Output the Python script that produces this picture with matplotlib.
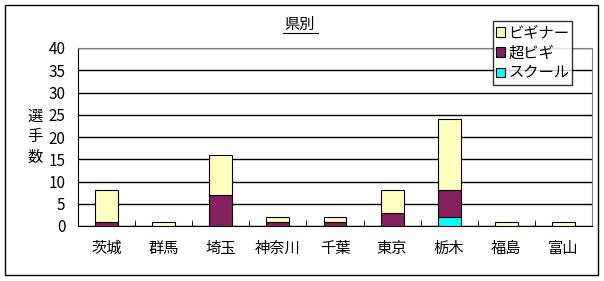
import matplotlib
matplotlib.use("Agg")
import matplotlib.pyplot as plt
from matplotlib.patches import Rectangle
import numpy as np

plt.rcParams['font.family'] = ['Noto Sans CJK JP', 'DejaVu Sans']

prefs = ['茨城', '群馬', '埼玉', '神奈川', '千葉', '東京', '栃木', '福島', '富山']
school = [0, 0, 0, 0, 0, 0, 2, 0, 0]
chobigi = [1, 0, 7, 1, 1, 3, 6, 0, 0]
beginner = [7, 1, 9, 1, 1, 5, 16, 1, 1]

W, H = 604, 281
fig = plt.figure(figsize=(W / 100, H / 100), dpi=100)
fig.patch.set_facecolor('white')

# outer chart frame
fig.patches.append(Rectangle((5 / W, 1 - 275 / H), 593 / W, 270 / H,
                             transform=fig.transFigure, fill=False,
                             edgecolor='black', lw=1))

ax = fig.add_axes([78 / W, 1 - 226 / H, (592 - 78) / W, (226 - 48) / H])

x = np.arange(len(prefs))
school = np.array(school)
chobigi = np.array(chobigi)
beginner = np.array(beginner)
bw = 0.4
ax.bar(x, school, bw, color='#00FFFF', edgecolor='black', lw=0.8,
       label='スクール', zorder=3)
ax.bar(x, chobigi, bw, bottom=school, color='#85205F', edgecolor='black',
       lw=0.8, label='超ビギ', zorder=3)
ax.bar(x, beginner, bw, bottom=school + chobigi, color='#FFFFC0',
       edgecolor='black', lw=0.8, label='ビギナー', zorder=3)

ax.set_xlim(-0.5, len(prefs) - 0.5)
ax.set_ylim(0, 40)
ax.set_yticks(range(0, 41, 5))
ax.set_xticks(x)
ax.set_xticklabels(prefs, fontsize=11)
ax.tick_params(axis='x', length=0, pad=10)
ax.set_xticks(np.arange(0.5, len(prefs) - 0.5, 1), minor=True)
ax.tick_params(axis='x', which='minor', direction='in', length=4, color='black')
ax.tick_params(axis='y', length=0, labelsize=11, pad=9)
ax.yaxis.grid(True, color='black', lw=1, zorder=0)
ax.set_axisbelow(True)

for s in ['top', 'right']:
    ax.spines[s].set_color('#808080')
for s in ['left', 'bottom']:
    ax.spines[s].set_color('black')

fig.text(35 / W, 1 - 137 / H, '選\n手\n数', fontsize=11,
         ha='center', va='center', linespacing=1.3)

fig.text(300 / W, 1 - 24 / H, '県別', fontsize=11, ha='center', va='center')
fig.lines.append(plt.Line2D([283 / W, 318 / W], [1 - 33 / H, 1 - 33 / H],
                            transform=fig.transFigure, color='black', lw=0.8))

handles, labels = ax.get_legend_handles_labels()
leg = fig.legend(handles[::-1], labels[::-1], loc='upper left',
                 bbox_to_anchor=(493 / W, 1 - 21 / H), fontsize=11,
                 frameon=True, fancybox=False, handlelength=0.6,
                 handleheight=0.6, handletextpad=0.2, borderpad=0.2,
                 labelspacing=0.22, borderaxespad=0)
leg.get_frame().set_edgecolor('black')
leg.get_frame().set_linewidth(1)

fig.savefig('out.png', dpi=100)
